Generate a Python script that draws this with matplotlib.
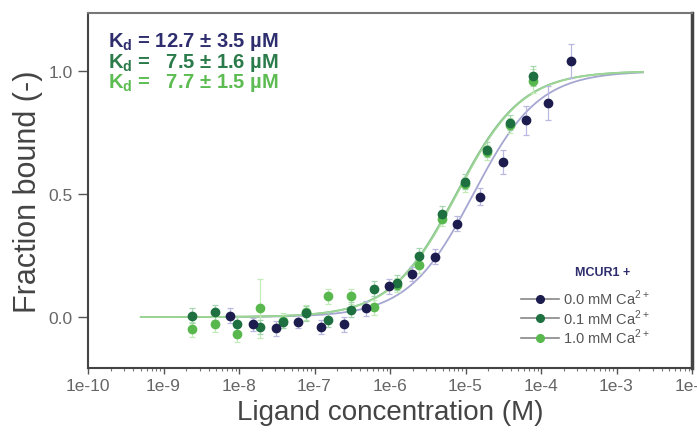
import numpy as np
import matplotlib
matplotlib.use("Agg")
import matplotlib.pyplot as plt
from matplotlib.lines import Line2D
from matplotlib.ticker import LogLocator, NullFormatter

plt.rcParams["font.family"] = ["Liberation Sans", "DejaVu Sans"]
plt.rcParams["mathtext.fontset"] = "custom"
plt.rcParams["mathtext.rm"] = "Liberation Sans"
plt.rcParams["mathtext.bf"] = "Liberation Sans:bold"

# ligand concentrations (uM), 2-fold dilution series
conc_00 = [0.00763, 0.0153, 0.0305, 0.061, 0.122, 0.244, 0.488, 0.977,
           1.95, 3.91, 7.81, 15.6, 31.3, 62.5, 125, 250]
conc_ca = [0.00238, 0.00477, 0.00954, 0.0191, 0.0381, 0.0763, 0.153, 0.305,
           0.610, 1.22, 2.44, 4.88, 9.77, 19.5, 39.1, 78.1]

# fraction bound
fb_00 = [0.005, -0.03, -0.045, -0.02, -0.04, -0.03, 0.035, 0.125,
         0.175, 0.245, 0.38, 0.49, 0.63, 0.80, 0.87, 1.04]
fb_01 = [0.005, 0.02, -0.03, -0.04, -0.02, 0.015, -0.01, 0.03,
         0.115, 0.14, 0.25, 0.42, 0.55, 0.68, 0.79, 0.98]
fb_10 = [-0.05, -0.03, -0.07, 0.035, -0.015, 0.02, 0.085, 0.085,
         0.04, 0.13, 0.21, 0.40, 0.54, 0.67, 0.78, 0.96]

err_00 = [0.03, 0.025, 0.03, 0.025, 0.03, 0.03, 0.03, 0.03,
          0.03, 0.03, 0.03, 0.035, 0.05, 0.06, 0.07, 0.07]
err_01 = [0.03, 0.03, 0.03, 0.03, 0.025, 0.03, 0.03, 0.03,
          0.03, 0.03, 0.03, 0.03, 0.03, 0.03, 0.03, 0.04]
err_10 = [0.03, 0.03, 0.03, 0.12, 0.03, 0.03, 0.03, 0.03,
          0.03, 0.03, 0.03, 0.03, 0.03, 0.03, 0.03, 0.05]

kd = [12.7, 7.5, 7.7]
labels = ["0.0 mM Ca$^{2+}$", "0.1 mM Ca$^{2+}$", "1.0 mM Ca$^{2+}$"]

xtick_vals = [1e-10, 1e-9, 1e-8, 1e-7, 1e-6, 1e-5, 1e-4, 1e-3, 1e-2]
xtick_labels = ["1e-10", "1e-9", "1e-8", "1e-7", "1e-6", "1e-5", "1e-4", "1e-3", "1e-2"]

navy = "#1c1c4e"
dgreen = "#1f7040"
lgreen = "#58b84e"
text_cols = ["#2e2e6e", "#2a7a4a", "#5cbc52"]
fit_cols = ["#a6a6d2", "#7dbb8c", "#9ed695"]
err_cols = ["#b8b8e0", "#a6d6b0", "#c2ebb8"]

fig = plt.figure(figsize=(6.97, 4.35), dpi=100)
ax = fig.add_axes([88 / 697, 66 / 435, 604 / 697, 355 / 435])

# fitted binding curves
xfit = np.logspace(-9.3, -2.65, 300)
for k, c in zip(kd, fit_cols):
    ax.plot(xfit, xfit / (xfit + k * 1e-6), color=c, lw=1.3, zorder=2)

series = [
    (conc_ca, fb_10, err_10, lgreen, err_cols[2]),
    (conc_ca, fb_01, err_01, dgreen, err_cols[1]),
    (conc_00, fb_00, err_00, navy, err_cols[0]),
]
for conc, fb, err, col, ecol in series:
    x = np.array(conc) * 1e-6
    ax.errorbar(x, fb, yerr=err, fmt="none", ecolor=ecol, elinewidth=0.9,
                capsize=2, capthick=0.9, zorder=3)
    ax.plot(x, fb, "o", color=col, ms=6, mec=col, zorder=4)

ax.set_xscale("log")
ax.set_xlim(1e-10, 1e-2)
ax.set_ylim(-0.207, 1.236)
ax.set_xticks(xtick_vals)
ax.set_xticklabels(xtick_labels)
ax.xaxis.set_minor_locator(LogLocator(base=10, subs=np.arange(2, 10)))
ax.xaxis.set_minor_formatter(NullFormatter())
ax.set_yticks([0.0, 0.5, 1.0])
ax.set_yticklabels(["0.0", "0.5", "1.0"])
ax.tick_params(which="major", direction="out", length=4, width=1,
               color="#555555", labelsize=12.5, labelcolor="#666666")
ax.tick_params(axis="y", which="major", length=7, pad=4)
ax.tick_params(which="minor", direction="out", length=2, width=0.8, color="#777777")

for s in ax.spines.values():
    s.set_color("#444444")
    s.set_linewidth(1.5)
ax.spines["right"].set_linewidth(2.5)
ax.spines["top"].set_color("#777777")

ax.set_xlabel("Ligand concentration (M)", fontsize=20, color="#444444", labelpad=4)
ax.set_ylabel("Fraction bound (-)", fontsize=22, color="#444444", labelpad=4)

# Kd annotations
kd_lines = [
    "K$_\\mathbf{d}$ = 12.7 \u00b1 3.5 \u00b5M",
    "K$_\\mathbf{d}$ =   7.5 \u00b1 1.6 \u00b5M",
    "K$_\\mathbf{d}$ =   7.7 \u00b1 1.5 \u00b5M",
]
for i, (t, c) in enumerate(zip(kd_lines, text_cols)):
    fig.text(108 / 697, 1 - (42 + 20.5 * i) / 435, t, color=c, fontsize=14.5,
             fontweight="bold", va="center", ha="left")

# legend
fig.text(603 / 697, 1 - 273 / 435, "MCUR1 +", color="#2e2e6e", fontsize=9,
         fontweight="bold", ha="center", va="center")
handles = [Line2D([0], [0], color="#888888", lw=1.2, marker="o", ms=5.5,
                  mfc=c, mec=c) for c in [navy, dgreen, lgreen]]
leg = ax.legend(handles, labels, loc="upper left",
                bbox_to_anchor=(521 / 697, 1 - 289 / 435),
                bbox_transform=fig.transFigure, frameon=False, fontsize=10.5,
                handlelength=2.6, handletextpad=0.25,
                labelspacing=0.0, borderpad=0, borderaxespad=0)
for t in leg.get_texts():
    t.set_color("#555555")

fig.savefig("out.png", dpi=100)
